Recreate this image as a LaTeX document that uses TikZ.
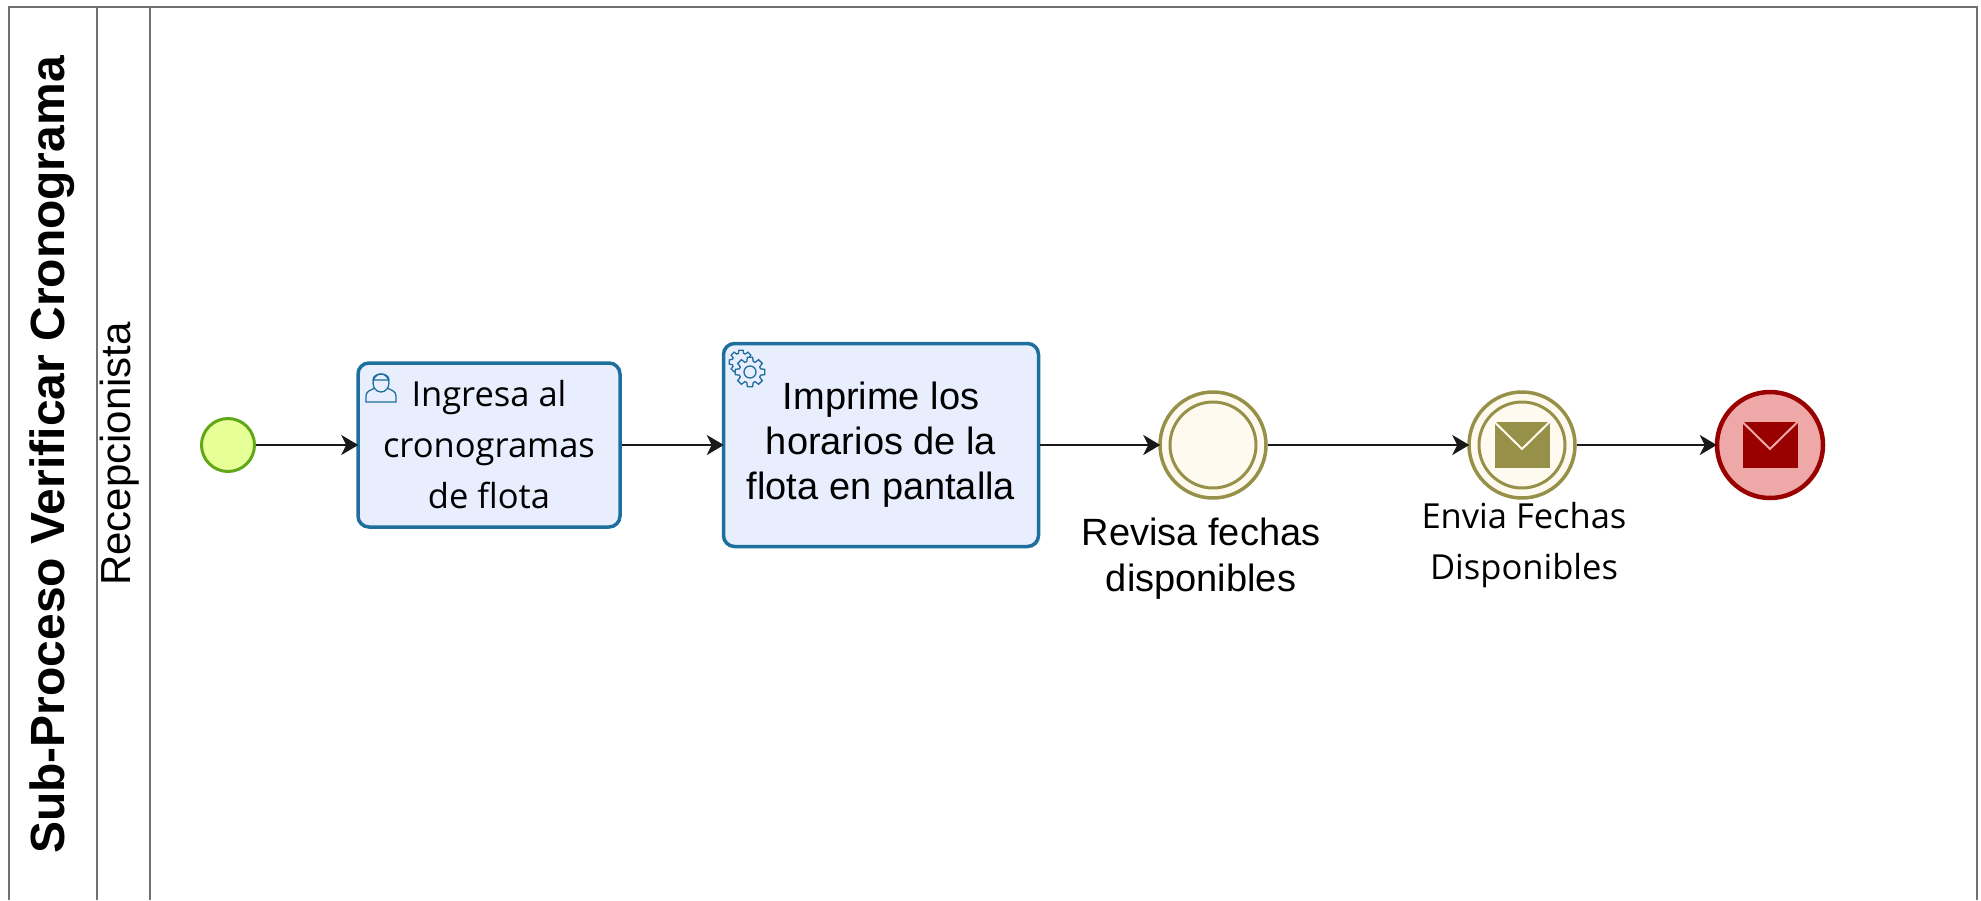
\documentclass[tikz,border=0pt]{standalone}
\usepackage{fontspec}
\setmainfont{Liberation Sans}
\newfontfamily\labelfont{Open Sans}
\usepackage{xcolor}
\usetikzlibrary{arrows.meta}
\definecolor{laneline}{HTML}{707070}
\definecolor{startfill}{HTML}{E6FF97}
\definecolor{startline}{HTML}{62A716}
\definecolor{taskfill}{HTML}{E9EEFF}
\definecolor{taskline}{HTML}{1F6F9C}
\definecolor{eventfill}{HTML}{FFFAEF}
\definecolor{eventline}{HTML}{969048}
\definecolor{endfill}{HTML}{EEA8A8}
\definecolor{endline}{HTML}{990000}

\begin{document}
\begin{tikzpicture}[
    x=1pt, y=-1pt,
    box/.style={rectangle, draw=taskline, fill=taskfill, line width=3.5pt, rounded corners=11pt, text=black, align=center},
    event/.style={circle, draw=eventline, fill=eventfill, line width=3.5pt, inner sep=0pt, minimum size=106pt},
    inevent/.style={circle, draw=eventline, fill=eventfill, line width=3pt, inner sep=0pt, minimum size=86pt},
    envelope/.style={rectangle, inner sep=0pt, minimum width=55pt, minimum height=46pt},
    flap/.style={line width=2pt},
    icon/.style={draw=taskline, line width=1.3pt},
    lane/.style={draw=laneline, line width=2pt},
    arrow/.style={-{Stealth[length=17pt, width=20pt, inset=5pt]}, line width=2.5pt, draw=black!90, shorten >=-2pt}
]
    \useasboundingbox (0,0) rectangle (1981,900);

    % Pool and lane
    \draw[lane] (9,900) -- (9,7) -- (1977,7) -- (1977,900);
    \draw[lane] (97,7) -- (97,900);
    \draw[lane] (150,7) -- (150,900);
    \node[rotate=90, font=\bfseries\fontsize{48}{56}\selectfont] (pool) at (52,455) {Sub-Proceso Verificar Cronograma};
    \node[rotate=90, font=\fontsize{42}{48}\selectfont] (lane) at (120,454) {Recepcionista};

    % Tasks
    \node[circle, draw=startline, fill=startfill, line width=3pt, inner sep=0pt, minimum size=53pt] (start) at (228,445) {};
    \node[box, minimum width=262pt, minimum height=164pt, font=\labelfont\fontsize{34.5}{51}\selectfont] (ingresa) at (489,445) {Ingresa al\\cronogramas\\de flota};
    \node[box, minimum width=315pt, minimum height=203pt, font=\fontsize{38}{45}\selectfont] (imprime) at (881,445) {Imprime los\\horarios de la\\flota en pantalla};

    % Events
    \node[event] (revisa) at (1213,445) {};
    \node[inevent] at (revisa) {};
    \node[event] (envia) at (1522,445) {};
    \node[inevent] at (envia) {};
    \node[envelope, fill=eventline] (enviamail) at (1522,445) {};
    \draw[eventfill, flap] (enviamail.north west) -- (1522,449) -- (enviamail.north east);
    \node[circle, draw=endline, fill=endfill, line width=4.5pt, inner sep=0pt, minimum size=106pt] (fin) at (1770,445) {};
    \node[envelope, fill=endline] (finmail) at (1770,445) {};
    \draw[endfill, flap] (finmail.north west) -- (1770,449) -- (finmail.north east);

    % Labels
    \node[align=center, font=\fontsize{38}{46}\selectfont] (revisatxt) at (1201,559) {Revisa fechas\\disponibles};
    \node[align=center, font=\labelfont\fontsize{34.5}{51}\selectfont] (enviatxt) at (1524,545) {Envia Fechas\\Disponibles};

    % Icons
    \draw[icon] (366,402) -- (366,396) .. controls (366,391) and (371,390) .. (375,388) -- (387,388) .. controls (391,390) and (396,391) .. (396,396) -- (396,402) -- cycle;
    \draw[icon, fill=taskfill] (381,383) ellipse (8 and 9);
    \draw[icon] (373,380) .. controls (373,372) and (389,372) .. (389,380) -- cycle;
    \foreach \cx/\cy/\ro/\ri in {741/362/12/9, 750/372/15/11}
        \draw[icon, fill=taskfill, shift={(\cx,\cy)}] (-10:\ro) \foreach \a in {0,45,...,315} { -- (\a-10:\ro) -- (\a+10:\ro) -- (\a+17:\ri) -- (\a+28:\ri) } -- cycle;
    \draw[icon] (750,372) circle (6);

    % Arrows
    \draw[arrow] (start) -- (ingresa);
    \draw[arrow] (ingresa) -- (imprime);
    \draw[arrow] (imprime) -- (revisa);
    \draw[arrow] (revisa) -- (envia);
    \draw[arrow] (envia) -- (fin);
\end{tikzpicture}
\end{document}
